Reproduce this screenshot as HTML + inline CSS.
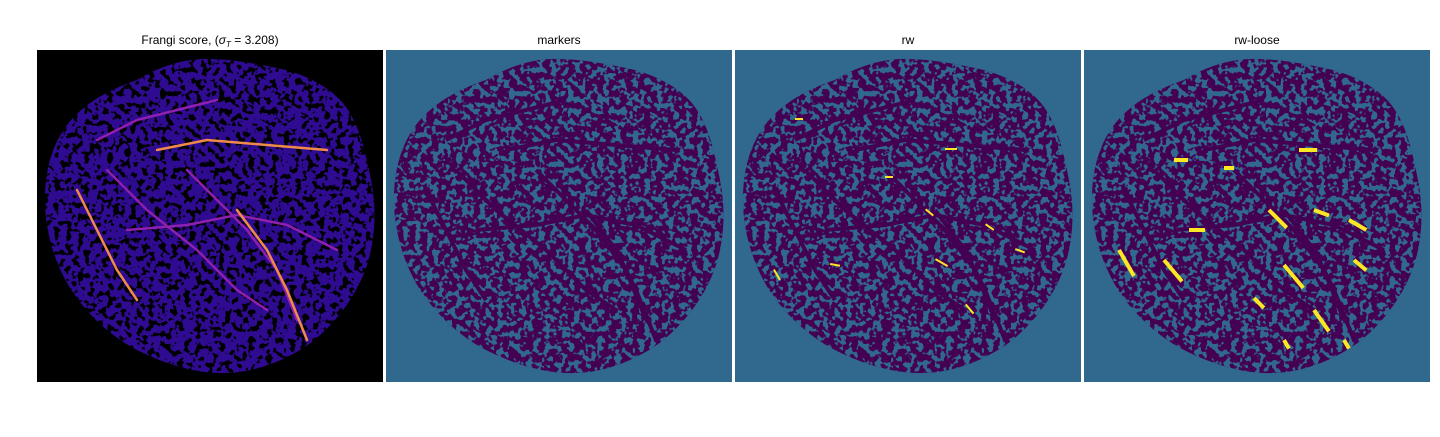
<!DOCTYPE html>
<html><head><meta charset="utf-8"><style>
body{margin:0;background:#fff;width:1440px;height:432px;overflow:hidden;font-family:"Liberation Sans","DejaVu Sans",sans-serif}
</style></head><body>
<svg id="fig" width="1440" height="432" xmlns="http://www.w3.org/2000/svg">
<defs>
<path id="blob" d="M100,30 C125,15 150,8 175,9 C200,10 215,13 240,18 C265,23 290,35 305,52 C322,72 328,100 334,130 C340,160 338,190 330,215 C320,245 300,272 275,292 C250,310 220,322 190,323 C160,324 130,315 100,300 C75,287 50,265 33,238 C17,212 8,180 8,150 C8,120 15,95 30,75 C45,55 70,40 100,30 Z"/>
<clipPath id="clip"><use href="#blob"/></clipPath>
<filter id="spotsTeal" x="0" y="0" width="100%" height="100%" color-interpolation-filters="sRGB">
<feTurbulence type="fractalNoise" baseFrequency="0.17" numOctaves="2" seed="3"/>
<feColorMatrix type="matrix" values="0 0 0 0 0.192  0 0 0 0 0.408  0 0 0 0 0.557  18 0 0 0 -9.1"/>
</filter>
<filter id="spotsBlack" x="0" y="0" width="100%" height="100%" color-interpolation-filters="sRGB">
<feTurbulence type="fractalNoise" baseFrequency="0.17" numOctaves="2" seed="3"/>
<feColorMatrix type="matrix" values="0 0 0 0 0  0 0 0 0 0  0 0 0 0 0  18 0 0 0 -9.6"/>
</filter>
</defs>
<g font-size="12" fill="#000" text-anchor="middle">
<text x="210" y="44">Frangi score, (<tspan font-style="italic">σ</tspan><tspan font-size="8" dy="3" font-style="italic">T</tspan><tspan dy="-3"> = 3.208)</tspan></text>
<text x="559" y="44">markers</text>
<text x="908" y="44">rw</text>
<text x="1257" y="44">rw-loose</text>
</g>
<g id="panels"></g>
</svg>
<script>
const panelX=[37,386,735,1084];
const panelNames=['frangi-panel','markers-panel','rw-panel','rw-loose-panel'];
const vessels=[
 [[40,140],[60,180],[80,220],[100,250]],
 [[70,120],[110,160],[160,200],[200,240],[230,260]],
 [[90,180],[150,175],[200,165],[250,175],[300,200]],
 [[120,100],[170,90],[230,95],[290,100]],
 [[150,120],[180,150],[210,180],[240,220],[260,270]],
 [[60,90],[100,70],[140,60],[180,50]],
 [[200,160],[230,200],[250,240],[270,290]]
];
const rwSegs=[[38,220,12,60],[190,160,10,40],[200,210,14,30],[230,255,12,50],[95,215,10,10],[60,70,8,0],[150,128,8,0],[210,100,12,0],[280,200,10,20],[250,175,10,35]];
const looseSegs=[[35,200,30,60],[80,210,28,50],[185,160,25,45],[200,215,30,50],[230,260,26,55],[215,100,18,0],[90,110,14,0],[140,118,10,0],[265,170,20,30],[270,210,16,40],[230,160,16,20],[105,180,16,0],[170,248,14,45],[260,290,10,60],[200,290,10,60]];
const NS='http://www.w3.org/2000/svg';
const g=document.getElementById('panels');
function el(t,a,p){const e=document.createElementNS(NS,t);for(const k in a)e.setAttribute(k,a[k]);(p||g).appendChild(e);return e;}
panelX.forEach((px,i)=>{
 const pg=el('g',{transform:`translate(${px},50)`});
 
 
 el('rect',{width:346,height:332,fill:i==0?'#000':'#31688e'},pg);
 const cg=el('g',{'clip-path':'url(#clip)'},pg);
 if(i==0){
  el('rect',{width:346,height:332,fill:'#2e0b90'},cg);
  el('rect',{width:346,height:332,filter:'url(#spotsBlack)'},cg);
  vessels.forEach((v,j)=>{
   const p=el('polyline',{points:v.map(q=>q.join(',')).join(' '),fill:'none',stroke:j%3==0?'#f08a4b':'#8f1fb0','stroke-width':2.5,'stroke-linecap':'round'},cg);
   
   
  });
 } else {
  el('rect',{width:346,height:332,fill:'#440154'},cg);
  el('rect',{width:346,height:332,filter:'url(#spotsTeal)'},cg);
  vessels.forEach(v=>{
   el('polyline',{points:v.map(q=>q.join(',')).join(' '),fill:'none',stroke:'#440154','stroke-width':4},cg);
  });
  const segs=i==2?rwSegs:i==3?looseSegs:[];
  segs.forEach(s=>{
   const r=el('rect',{x:s[0],y:s[1]-2,width:s[2],height:i==3?4:2,fill:'#fde725',transform:`rotate(${s[3]} ${s[0]} ${s[1]})`},cg);
   
   
  });
 }
});
</script>
</body></html>
